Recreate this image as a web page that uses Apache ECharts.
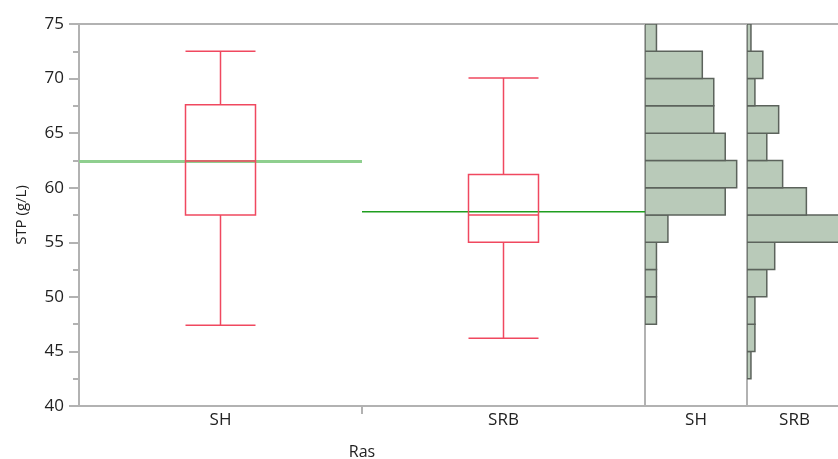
<!DOCTYPE html>
<html><head><meta charset="utf-8">
<script src="https://cdn.jsdelivr.net/npm/echarts@6/dist/echarts.min.js"></script>
<style>html,body{margin:0;padding:0;background:#fff}#c{width:838px;height:459px}</style>
</head><body><div id="c"></div>
<script>
// ---- data ----
const categories = ['SH', 'SRB'];
// [low whisker, Q1, median, Q3, high whisker]
const boxSH = [47.4, 57.5, 62.45, 67.6, 72.5];
const boxSRB = [46.2, 55.0, 57.5, 61.2, 70.05];
const means = [62.4, 57.8];
const binLows = [40, 42.5, 45, 47.5, 50, 52.5, 55, 57.5, 60, 62.5, 65, 67.5, 70, 72.5];
const binWidth = 2.5;
const histSH = [0, 0, 0, 1, 1, 1, 2, 7, 8, 7, 6, 6, 5, 1];
const histSRB = [0, 1, 2, 2, 5, 7, 24, 15, 9, 5, 8, 2, 4, 1];
const yMin = 40, yMax = 75, yStep = 5;
const xAxisName = 'Ras';
const yAxisName = 'STP (g/L)';

// ---- chart ----
const FONT = '"Open Sans", "Noto Sans", sans-serif';
const TXT = '#222';
const LINE = '#b2b2b2';
const chart = echarts.init(document.getElementById('c'), null, {renderer: 'canvas'});

function histData(counts) {
  return binLows.map((lo, i) => [lo, lo + binWidth, counts[i]]);
}
function histItem(params, api) {
  const lo = api.value(0), hi = api.value(1), n = api.value(2);
  if (!n) return null;
  const p0 = api.coord([0, hi]);
  const p1 = api.coord([n, lo]);
  return {
    type: 'rect',
    shape: {x: p0[0], y: p0[1], width: p1[0] - p0[0], height: p1[1] - p0[1]},
    style: {fill: '#b9cab9', stroke: '#5c635c', lineWidth: 1.5}
  };
}
const meanStyles = [
  {stroke: '#8fcf8f', lineWidth: 3},
  {stroke: '#1f9e1f', lineWidth: 1.5}
];

const gridBase = {top: 24, height: 382, show: true, borderColor: LINE, borderWidth: 2,
  backgroundColor: 'transparent', outerBoundsMode: 'none', containLabel: false};

chart.setOption({
  animation: false,
  textStyle: {fontFamily: FONT},
  grid: [
    Object.assign({left: 79, width: 566}, gridBase),
    Object.assign({left: 645, width: 102}, gridBase),
    Object.assign({left: 747, width: 95}, gridBase)
  ],
  xAxis: [
    {
      type: 'category', gridIndex: 0, data: categories, position: 'bottom',
      name: xAxisName, nameLocation: 'middle', nameGap: 38,
      nameTextStyle: {fontSize: 16, color: TXT, fontFamily: FONT},
      axisLine: {show: false, onZero: false},
      axisTick: {show: false},
      axisLabel: {fontSize: 17, color: TXT, margin: 6, fontFamily: FONT},
      splitLine: {show: false}
    },
    {type: 'value', gridIndex: 1, min: 0, max: 8.9, position: 'top', show: false},
    {
      type: 'category', gridIndex: 1, data: ['SH'], position: 'bottom',
      axisLine: {show: false, onZero: false}, axisTick: {show: false},
      axisLabel: {fontSize: 17, color: TXT, margin: 6, fontFamily: FONT}
    },
    {type: 'value', gridIndex: 2, min: 0, max: 24, position: 'top', show: false},
    {
      type: 'category', gridIndex: 2, data: ['SRB'], position: 'bottom',
      axisLine: {show: false, onZero: false}, axisTick: {show: false},
      axisLabel: {fontSize: 17, color: TXT, margin: 6, fontFamily: FONT}
    },
    {
      // overlay axis only for the separator tick between the two categories
      type: 'value', gridIndex: 0, min: -0.5, max: 1.5, position: 'bottom',
      axisLine: {show: false, onZero: false}, splitLine: {show: false},
      axisLabel: {show: false},
      axisTick: {show: true, length: 8, lineStyle: {color: LINE, width: 2}, customValues: [0.5]}
    }
  ],
  yAxis: [
    {
      type: 'value', gridIndex: 0, min: yMin, max: yMax, interval: yStep, position: 'left',
      name: yAxisName, nameLocation: 'middle', nameGap: 50,
      nameTextStyle: {fontSize: 15, color: TXT, fontFamily: FONT},
      axisLine: {show: false, onZero: false},
      axisTick: {show: true, length: 10, lineStyle: {color: LINE, width: 2}},
      minorTick: {show: true, splitNumber: 2, length: 6, lineStyle: {color: LINE, width: 2}},
      axisLabel: {fontSize: 17, color: TXT, margin: 15, fontFamily: FONT},
      splitLine: {show: false}
    },
    {type: 'value', gridIndex: 1, min: yMin, max: yMax, show: false, axisLine: {onZero: false}},
    {type: 'value', gridIndex: 2, min: yMin, max: yMax, show: false, axisLine: {onZero: false}}
  ],
  series: [
    {
      type: 'custom', xAxisIndex: 0, yAxisIndex: 0, z: 1,
      data: categories.map((c, i) => [i, means[i]]),
      renderItem: (params, api) => {
        const c = api.coord([api.value(0), api.value(1)]);
        const w = api.size([1, 0])[0];
        return {type: 'line', shape: {x1: c[0] - w / 2, y1: c[1], x2: c[0] + w / 2, y2: c[1]}, style: meanStyles[params.dataIndex]};
      }
    },
    {
      type: 'boxplot', xAxisIndex: 0, yAxisIndex: 0, z: 3,
      boxWidth: [70, 70],
      data: [boxSH, boxSRB],
      itemStyle: {color: 'rgba(0,0,0,0)', borderColor: '#f0485f', borderWidth: 1.5},
      emphasis: {disabled: true}
    },
    {
      type: 'custom', xAxisIndex: 1, yAxisIndex: 1, clip: true,
      data: histData(histSH), encode: {x: 2, y: [0, 1]}, renderItem: histItem
    },
    {
      type: 'custom', xAxisIndex: 3, yAxisIndex: 2, clip: true,
      data: histData(histSRB), encode: {x: 2, y: [0, 1]}, renderItem: histItem
    }
  ]
});
</script></body></html>
